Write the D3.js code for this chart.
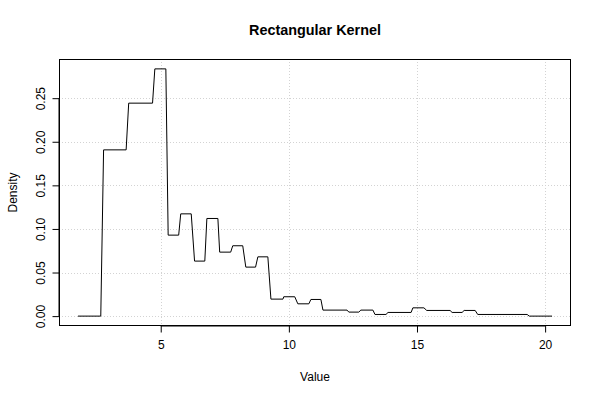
<!DOCTYPE html>
<html>
<head>
<meta charset="utf-8">
<script src="https://cdn.jsdelivr.net/npm/d3@7"></script>
<style>
  body { margin: 0; background: #fff; }
  text { font-family: "Liberation Sans", Arial, Helvetica, sans-serif; fill: #000; }
</style>
</head>
<body>
<svg id="chart" width="600" height="400"></svg>
<script>
// Step segments of the rectangular-kernel density estimate
const segStart = [1.77, 2.77, 3.75, 4.77, 5.29, 5.78, 6.32, 6.80, 7.30, 7.81, 8.32, 8.79, 9.30, 9.80, 10.35, 10.86, 11.33, 12.34, 12.81, 13.36, 13.87, 14.84, 15.38, 16.37, 16.84, 17.37, 19.38];
const segEnd   = [2.66, 3.65, 4.68, 5.20, 5.70, 6.19, 6.72, 7.23, 7.73, 8.20, 8.70, 9.18, 9.77, 10.23, 10.78, 11.25, 12.27, 12.73, 13.28, 13.79, 14.77, 15.27, 16.29, 16.76, 17.27, 19.30, 20.27];
const density  = [0, 0.1907, 0.2443, 0.2836, 0.0929, 0.1173, 0.0631, 0.1120, 0.0734, 0.0807, 0.0562, 0.0680, 0.0195, 0.0222, 0.0141, 0.0191, 0.0069, 0.0046, 0.0069, 0.0019, 0.0042, 0.0095, 0.0065, 0.0042, 0.0065, 0.0019, 0];
const xTicks = [5, 10, 15, 20];
const yTicks = [0, 0.05, 0.10, 0.15, 0.20, 0.25];
const titleText = "Rectangular Kernel";
const xLabel = "Value";
const yLabel = "Density";

const svg = d3.select("#chart");
const L = 59, R = 571, T = 59, B = 326;

const points = [];
segStart.forEach((s, i) => {
  points.push([s, density[i]]);
  points.push([segEnd[i], density[i]]);
});

const xmin = d3.min(segStart), xmax = d3.max(segEnd);
const xr = xmax - xmin;
const ymax = d3.max(density), ymin = d3.min(density);
const yr = ymax - ymin;

const x = d3.scaleLinear().domain([xmin - 0.04 * xr, xmax + 0.04 * xr]).range([L, R]);
const y = d3.scaleLinear().domain([ymin - 0.04 * yr, ymax + 0.04 * yr]).range([B, T]);

// grid
const grid = svg.append("g").attr("stroke", "#d3d3d3").attr("stroke-width", 1).attr("stroke-dasharray", "1,2");
xTicks.forEach(t => {
  grid.append("line").attr("x1", Math.round(x(t)) + 0.5).attr("x2", Math.round(x(t)) + 0.5)
    .attr("y1", T).attr("y2", B);
});
yTicks.forEach(t => {
  grid.append("line").attr("y1", Math.round(y(t)) + 0.5).attr("y2", Math.round(y(t)) + 0.5)
    .attr("x1", L).attr("x2", R);
});

// density line
svg.append("path")
  .datum(points)
  .attr("fill", "none")
  .attr("stroke", "#000")
  .attr("stroke-width", 1)
  .attr("d", d3.line().x(d => x(d[0])).y(d => y(d[1])));

// box
svg.append("rect").attr("x", L + 0.5).attr("y", T + 0.5).attr("width", R - L - 1).attr("height", B - T - 1)
  .attr("fill", "none").attr("stroke", "#000").attr("stroke-width", 1);

// x axis
const xAxis = d3.axisBottom(x).tickValues(xTicks).tickSize(7).tickPadding(8).tickFormat(d3.format("d"));
const gx = svg.append("g").attr("transform", `translate(0,${B - 0.5})`).call(xAxis);
gx.select(".domain").attr("d", `M${x(xTicks[0])},0.5H${x(xTicks[xTicks.length - 1])}`);
gx.selectAll("text").attr("font-size", 12).attr("font-family", "Liberation Sans, Arial, sans-serif");

// y axis
const yAxis = d3.axisLeft(y).tickValues(yTicks).tickSize(7).tickFormat(d3.format(".2f"));
const gy = svg.append("g").attr("transform", `translate(${L + 0.5},0)`).call(yAxis);
gy.select(".domain").attr("d", `M-0.5,${y(yTicks[0])}V${y(yTicks[yTicks.length - 1])}`);
gy.selectAll(".tick text")
  .attr("font-size", 12)
  .attr("font-family", "Liberation Sans, Arial, sans-serif")
  .attr("x", null).attr("dy", null)
  .attr("text-anchor", "middle")
  .attr("transform", "translate(-14.5,0) rotate(-90)");

// title
svg.append("text").attr("x", (L + R) / 2).attr("y", 35).attr("text-anchor", "middle")
  .attr("font-size", 14.4).attr("font-weight", "bold").text(titleText);
svg.append("text").attr("x", (L + R) / 2).attr("y", 381).attr("text-anchor", "middle")
  .attr("font-size", 12).text(xLabel);
svg.append("text").attr("transform", `translate(17,${(T + B) / 2}) rotate(-90)`).attr("text-anchor", "middle")
  .attr("font-size", 12).text(yLabel);
</script>
</body>
</html>
